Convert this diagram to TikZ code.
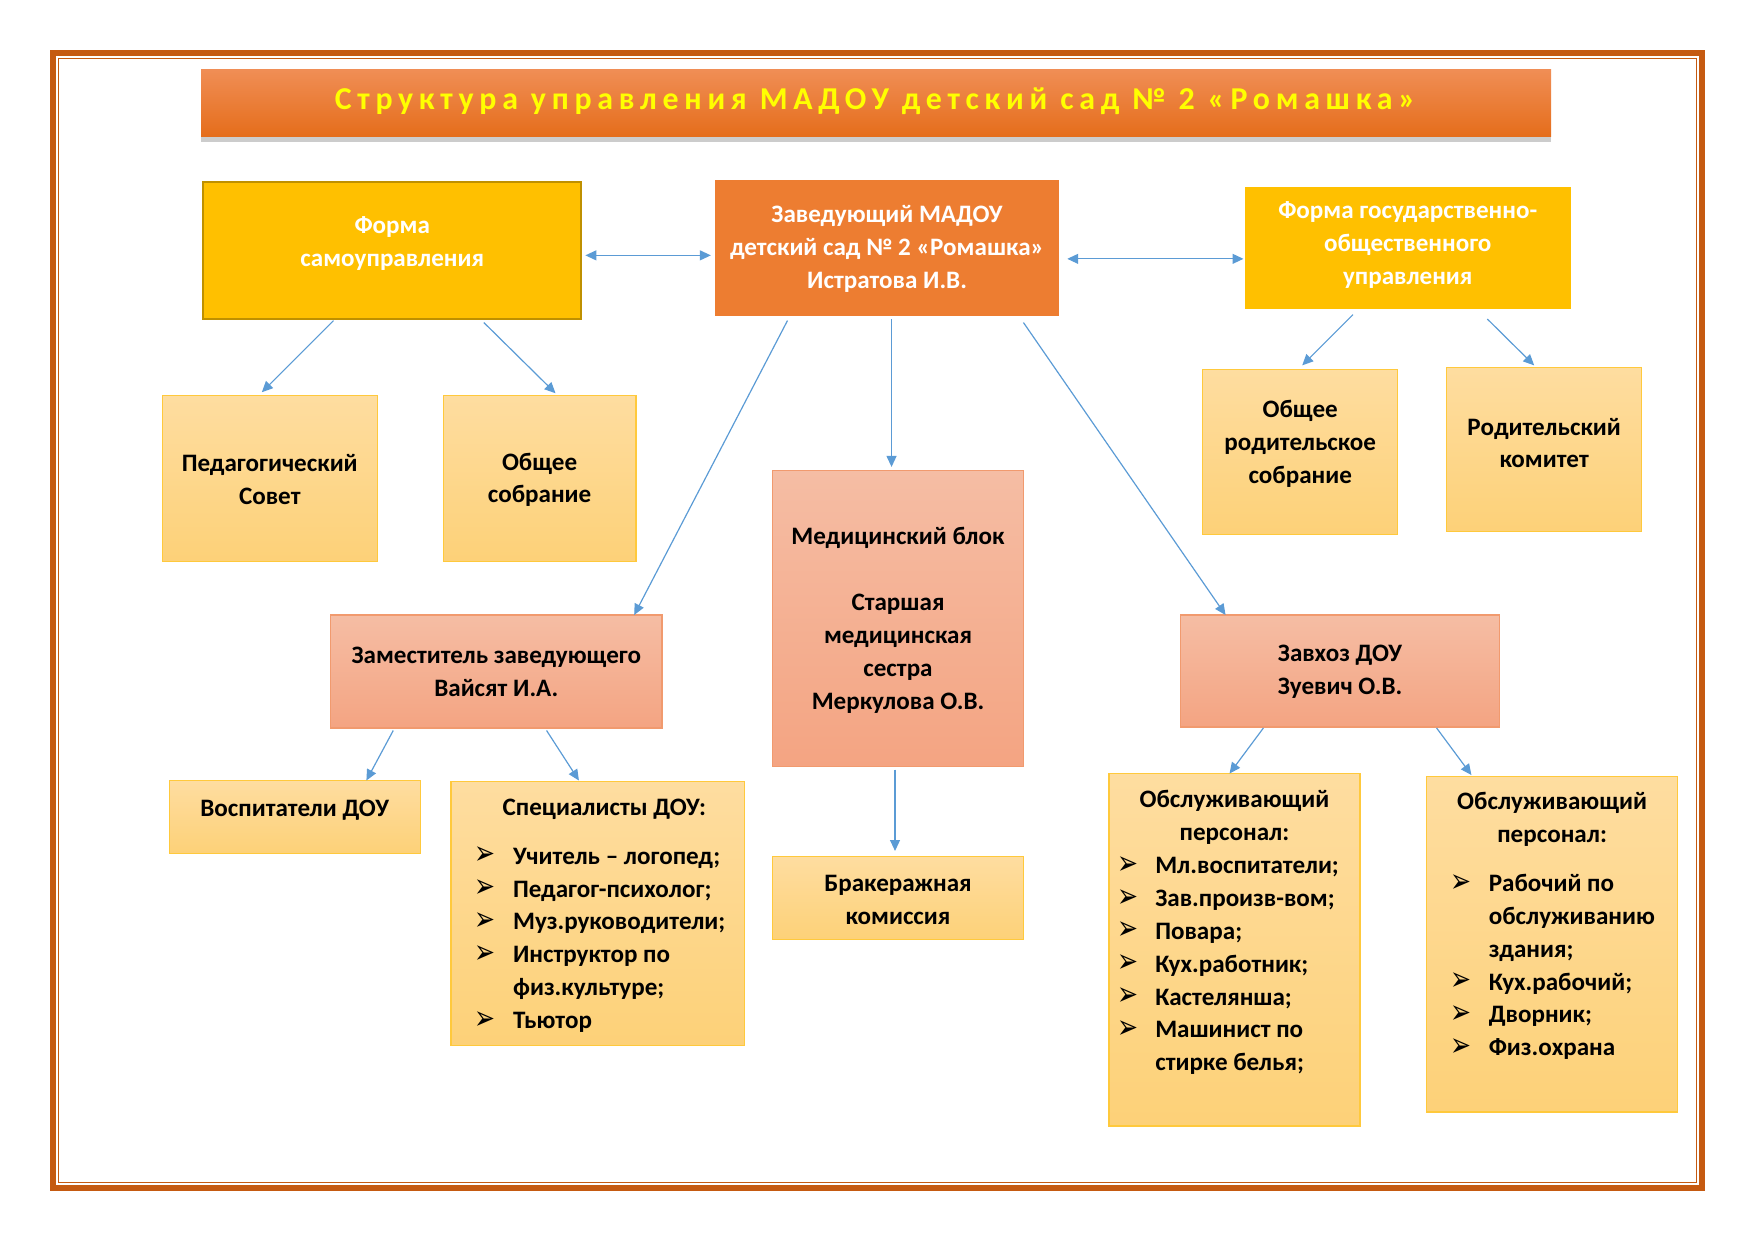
\documentclass[tikz,border=0pt]{standalone}
\usepackage{fontspec}
\setmainfont{Carlito}
\newfontfamily\symf{DejaVu Sans}
\usetikzlibrary{arrows.meta,calc,shadows}
\definecolor{brd}{HTML}{C55A11}
\definecolor{gold}{HTML}{FFC000}
\definecolor{goldbrd}{HTML}{BF9000}
\definecolor{orng}{HTML}{ED7D31}
\definecolor{lt}{HTML}{FEDDA0}
\definecolor{lb}{HTML}{FDD178}
\definecolor{lbrd}{HTML}{FFC93C}
\definecolor{st}{HTML}{F5BDA4}
\definecolor{sb}{HTML}{F4A482}
\definecolor{sbrd}{HTML}{F19A6E}
\definecolor{arrc}{HTML}{5B9BD5}
\definecolor{tt}{HTML}{F08E55}
\definecolor{tb}{HTML}{E56D1B}
\definecolor{ttext}{HTML}{FFFF00}
\newcommand\bul{{\symf\fontsize{12}{16.5}\selectfont\raisebox{-0.3pt}{\scalebox{1.05}[1.4]{➢}}}}
\tikzset{
  base/.style={inner sep=0pt, outer sep=0pt},
  sz/.style 2 args={minimum width=#1*0.5pt, minimum height=#2*0.5pt},
  goldbox/.style={base, fill=gold, draw=goldbrd, line width=1pt},
  goldbox2/.style={base, fill=gold, draw=gold, line width=0.5pt},
  orbox/.style={base, fill=orng},
  ltbox/.style={base, top color=lt, bottom color=lb, draw=lbrd, line width=0.6pt},
  sbox/.style={base, top color=st, bottom color=sb, draw=sbrd, line width=0.6pt},
  txt/.style={align=center, font=\bfseries\fontsize{12.6}{16.5}\selectfont, inner sep=0pt},
  wtxt/.style={txt, text=white},
  lhead/.style={txt, anchor=base},
  lst/.style={font=\bfseries\fontsize{12.6}{16.5}\selectfont, inner sep=0pt, anchor=base west},
  arr/.style={draw=arrc, line width=0.6pt, -{Triangle[length=5.5pt,width=5pt]}},
  darr/.style={draw=arrc, line width=0.6pt, {Triangle[length=5.5pt,width=5pt]}-{Triangle[length=5.5pt,width=5pt]}}
}
\begin{document}
\begin{tikzpicture}[x=0.5pt,y=-0.5pt]
\useasboundingbox (0,0) rectangle (1762.8,1246.5);
% frame
\draw[brd, line width=3pt] (53.2,53.2) rectangle (1709.6,1193.3);
\draw[brd, line width=0.75pt] (58.8,58.8) rectangle (1704,1187.8);
% title
\node[base, sz={1356}{67}, top color=tt, bottom color=tb,
  drop shadow={shadow xshift=0pt, shadow yshift=-3pt, opacity=0.4}] (title) at (880,103.5) {};
\node[base, text=ttext, font=\bfseries\fontsize{16}{19}\selectfont] (title-t) at (879,102)
  {\addfontfeature{LetterSpace=18}Структура управления МАДОУ детский сад № 2 «Ромашка»};
% top row
\node[goldbox, sz={380}{137}] (fs) at (394,251.5) {};
\node[wtxt] (fs-t) at (394,245) {Форма\\самоуправления};
\node[orbox, sz={346}{136}] (zav) at (891,249) {};
\node[wtxt] (zav-t) at (891,250) {Заведующий МАДОУ\\детский сад № 2 «Ромашка»\\Истратова И.В.};
\node[goldbox2, sz={326}{122}] (fg) at (1414,249) {};
\node[wtxt] (fg-t) at (1414,246) {Форма государственно-\\общественного\\управления};
% second row
\node[ltbox, sz={216}{167}] (ped) at (271,480.5) {};
\node[txt] (ped-t) at (271,482) {Педагогический\\Совет};
\node[ltbox, sz={193.5}{167}] (os) at (542,480.5) {};
\node[txt] (os-t) at (542,482) {Общее\\собрание};
\node[ltbox, sz={196}{166}] (or) at (1306,454) {};
\node[txt] (or-t) at (1306,446) {Общее\\родительское\\собрание};
\node[ltbox, sz={196}{165}] (rk) at (1551,451.5) {};
\node[txt] (rk-t) at (1551,445) {Родительский\\комитет};
\node[sbox, sz={252}{297}] (med) at (902,621) {};
\node[txt] (med-t) at (902,623) {Медицинский блок\\[16.5pt]Старшая\\медицинская\\сестра\\Меркулова О.В.};
% third row
\node[sbox, sz={333}{113.5}] (zam) at (498.5,674.5) {};
\node[txt] (zam-t) at (498.5,675) {Заместитель заведующего\\Вайсят И.А.};
\node[sbox, sz={320}{112.5}] (zh) at (1346,674) {};
\node[txt] (zh-t) at (1346,675) {Завхоз ДОУ\\Зуевич О.В.};
% bottom row
\node[ltbox, sz={252}{73}] (vos) at (296,820.5) {};
\node[txt] (vos-t) at (296,814) {Воспитатели ДОУ};
\node[ltbox, sz={295}{265}] (spec) at (600.5,917.5) {};
\node[lhead] (spec-h) at (607,819) {\begin{tabular}[t]{@{}c@{}}Специалисты ДОУ:\end{tabular}};
\node[lst] (spec-l) at (476,868) {\begin{tabular}[t]{@{}p{19.5pt}@{}l@{}}
\bul & Учитель – логопед;\\
\bul & Педагог-психолог;\\
\bul & Муз.руководители;\\
\bul & Инструктор по\\
     & физ.культуре;\\
\bul & Тьютор
\end{tabular}};
\node[ltbox, sz={252}{83.5}] (br) at (902,902) {};
\node[txt] (br-t) at (902,904) {Бракеражная\\комиссия};
\node[ltbox, sz={252}{354}] (ob1) at (1240,954) {};
\node[lhead] (ob1-h) at (1240,811) {\begin{tabular}[t]{@{}c@{}}Обслуживающий\\персонал:\end{tabular}};
\node[lst] (ob1-l) at (1122,877.5) {\begin{tabular}[t]{@{}p{19pt}@{}l@{}}
\bul & Мл.воспитатели;\\
\bul & Зав.произв-вом;\\
\bul & Повара;\\
\bul & Кух.работник;\\
\bul & Кастелянша;\\
\bul & Машинист по\\
     & стирке белья;
\end{tabular}};
\node[ltbox, sz={252}{337}] (ob2) at (1559,948.5) {};
\node[lhead] (ob2-h) at (1559,813) {\begin{tabular}[t]{@{}c@{}}Обслуживающий\\персонал:\end{tabular}};
\node[lst] (ob2-l) at (1457,895.5) {\begin{tabular}[t]{@{}p{19pt}@{}l@{}}
\bul & Рабочий по\\
     & обслуживанию\\
     & здания;\\
\bul & Кух.рабочий;\\
\bul & Дворник;\\
\bul & Физ.охрана
\end{tabular}};
% connectors
\draw[darr] ($(fs.east)+(4,5)$) -- ($(zav.west |- fs.east)+(-4,5)$);
\draw[darr] ($(zav.east)+(8,11)$) -- ($(fg.west |- zav.east)+(-2,11)$);
\draw[arr] ($(fs.south)+(-59,2)$) -- ($(ped.north)+(-8,-3)$);
\draw[arr] ($(fs.south)+(92,4)$) -- ($(os.north)+(16,-2)$);
\draw[arr] ($(fg.south)+(-55,6)$) -- ($(or.north)+(2,-4)$);
\draw[arr] ($(fg.south)+(80,10.5)$) -- ($(rk.north)+(-10,-2)$);
\draw[arr] ($(zav.south)+(-100,5)$) -- ($(zam.north)+(138.5,0)$);
\draw[arr] ($(zav.south)+(4.5,3.5)$) -- ($(med.north)+(-6.5,-3.5)$);
\draw[arr] ($(zav.south)+(137,7)$) -- ($(zh.north)+(-115,0)$);
\draw[arr] ($(zam.south)+(-103.5,2.5)$) -- ($(vos.north)+(72,0)$);
\draw[arr] ($(zam.south)+(50.5,2.5)$) -- ($(spec.north)+(-19,-1)$);
\draw[arr] ($(med.south)+(-3,3.5)$) -- ($(br.north)+(-3,-5.5)$);
\draw[arr] ($(zh.south)+(-77,1)$) -- ($(ob1.north)+(-5,0)$);
\draw[arr] ($(zh.south)+(97,1)$) -- ($(ob2.north)+(-81,-1.5)$);
\end{tikzpicture}
\end{document}
